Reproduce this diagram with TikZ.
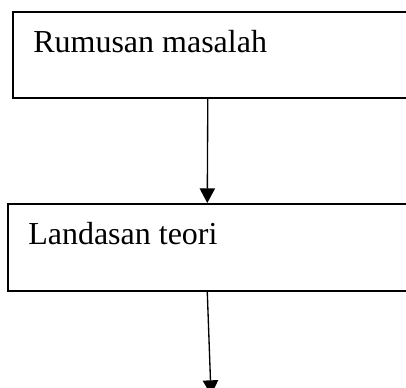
\documentclass[tikz,border=0pt]{standalone}
\usepackage{fontspec}
\setmainfont{Liberation Serif}
\usetikzlibrary{arrows.meta}
\begin{document}
\begin{tikzpicture}[x=0.75pt,y=-0.75pt,
  box/.style={draw,line width=1.2pt,minimum width=306pt,minimum height=64.5pt,inner sep=0pt,anchor=north west},
  lbl/.style={font=\fontsize{24}{28}\selectfont,inner sep=0pt,anchor=base west},
  arr/.style={line width=1pt,-{Triangle[length=11pt,width=11.5pt]}}]
\useasboundingbox (0,0) rectangle (406,387);
\clip (0,0) rectangle (406,387);
\node[box] (r1) at (12,11) {};
\node[lbl] (t1) at (33,52) {Rumusan masalah};
\node[box,minimum height=65.25pt] (r2) at (7,203) {};
\node[lbl] (t2) at (28,244) {Landasan teori};
\coordinate (e2) at (211,395);
\draw[arr] ([xshift=-6.75pt]r1.south) -- ([xshift=-3.4pt]r2.north);
\draw[arr] ([xshift=-3.4pt]r2.south) -- (e2);
\end{tikzpicture}
\end{document}
